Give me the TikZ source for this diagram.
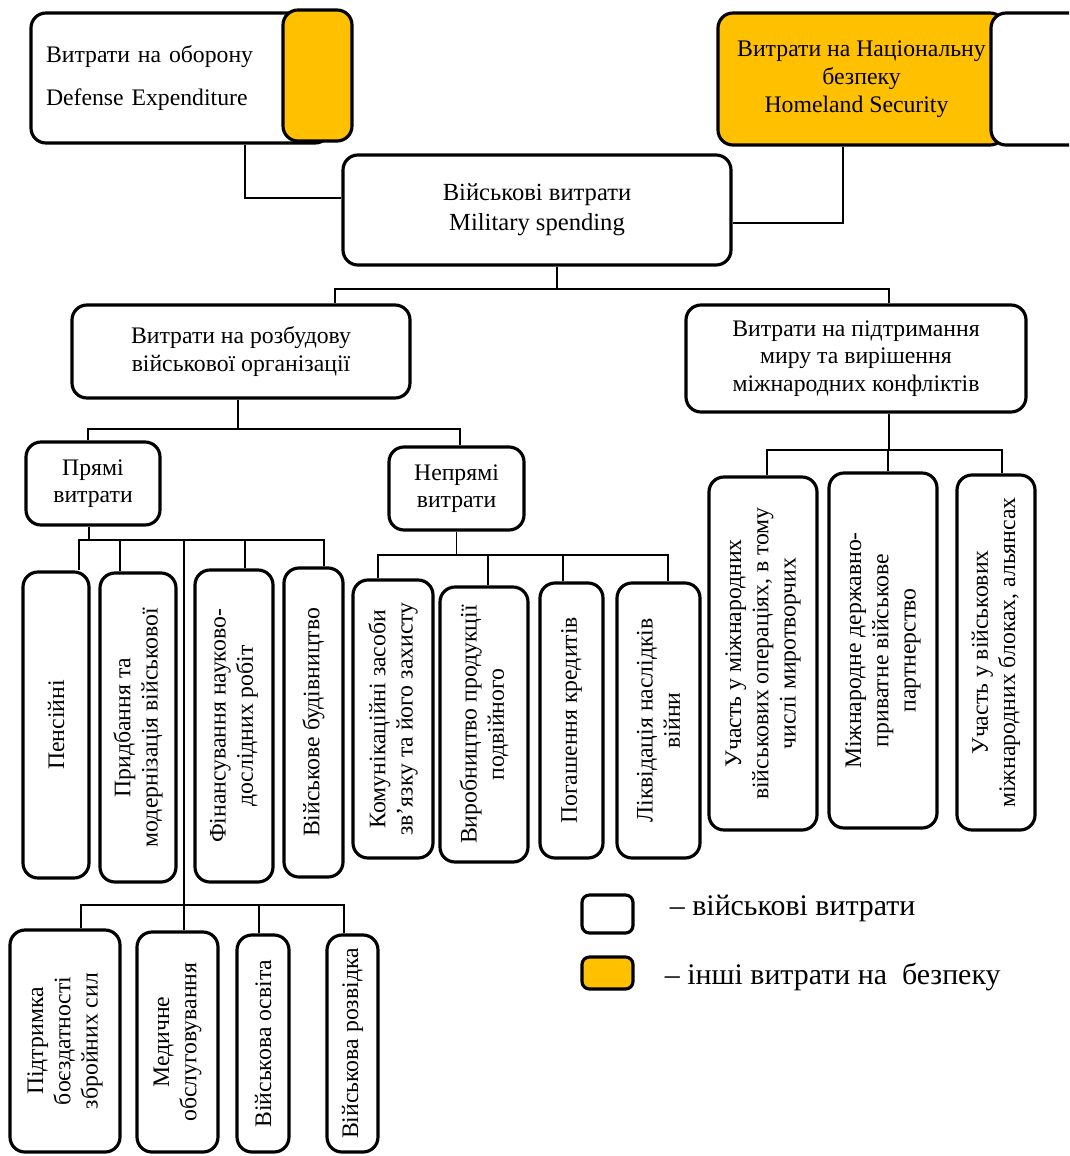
\documentclass[tikz,border=0pt]{standalone}
\usepackage{fontspec}
\setmainfont{Liberation Serif}
\usepackage{tikz}
\usetikzlibrary{positioning}

\definecolor{gold}{HTML}{FFC000}
\newcommand{\bxfont}{\fontsize{13.5}{15.5}\selectfont}

\begin{document}
\begin{tikzpicture}[
    box/.style={rectangle, rounded corners=0.3cm, draw=black, line width=1.8pt,
                fill=white, align=center, inner sep=2pt, font=\bxfont},
    vbox/.style={box, rotate=90},
    goldbox/.style={box, fill=gold},
    conn/.style={line width=1.1pt},
    thinconn/.style={line width=0.6pt},
    legtext/.style={font=\fontsize{17}{20}\selectfont, inner sep=0pt}
]

    \clip (0,0) rectangle (21.38,-23.12);

    % Defense expenditure (top left)
    \node[box, minimum width=5.98cm, minimum height=2.6cm, text width=5.38cm,
          align=left, inner xsep=0.3cm] (defense) at (3.61,-1.56)
          {Витрати на оборону\\[9pt]Defense Expenditure};
    \node[goldbox, minimum width=1.38cm, minimum height=2.62cm] (defside) at (6.35,-1.51) {};

    % Homeland security (top right)
    \node[goldbox, minimum width=5.74cm, minimum height=2.64cm,
          font=\fontsize{13.5}{16}\selectfont] (homeland) at (17.23,-1.58)
          {Витрати на Національну\\безпеку\\Homeland Security\hspace*{0.2cm}};
    \node[box, minimum width=1.98cm, minimum height=2.64cm] (homeside) at (20.81,-1.58) {};

    % Military spending
    \node[box, minimum width=7.76cm, minimum height=2.2cm,
          font=\fontsize{14}{17}\selectfont] (mil) at (10.74,-4.2)
          {Військові витрати\\Military spending};

    % Second level
    \node[box, minimum width=6.76cm, minimum height=1.86cm] (build) at (4.82,-7.03)
          {Витрати на розбудову\\військової організації};
    \node[box, minimum width=6.8cm, minimum height=2.14cm] (peace) at (17.12,-7.17)
          {Витрати на підтримання\\миру та вирішення\\міжнародних конфліктів};

    % Direct / indirect
    \node[box, minimum width=2.68cm, minimum height=1.66cm] (direct) at (1.86,-9.67) {Прямі\\витрати};
    \node[box, minimum width=2.7cm, minimum height=1.66cm] (indirect) at (9.13,-9.77) {Непрямі\\витрати};

    % Direct expenditure items
    \node[vbox, minimum width=6.12cm, minimum height=1.32cm] (pens) at (1.12,-14.5) {Пенсійні};
    \node[vbox, minimum width=6.18cm, minimum height=1.52cm] (purch) at (2.76,-14.55)
          {Придбання та\\модернізація військової};
    \node[vbox, minimum width=6.24cm, minimum height=1.56cm] (rnd) at (4.68,-14.52)
          {Фінансування науково-\\дослідних робіт};
    \node[vbox, minimum width=6.18cm, minimum height=1.18cm] (constr) at (6.27,-14.45) {Військове будівництво};

    % Indirect expenditure items
    \node[vbox, minimum width=5.56cm, minimum height=1.6cm] (comm) at (7.86,-14.38)
          {Комунікаційні засоби\\зв’язку та його захисту};
    \node[vbox, minimum width=5.5cm, minimum height=1.76cm] (dual) at (9.68,-14.49)
          {Виробництво продукції\\подвійного};
    \node[vbox, minimum width=5.5cm, minimum height=1.26cm] (loans) at (11.43,-14.41) {Погашення кредитів};
    \node[vbox, minimum width=5.5cm, minimum height=1.66cm] (postwar) at (13.17,-14.41)
          {Ліквідація наслідків\\війни};

    % Peace items
    \node[vbox, minimum width=7.06cm, minimum height=2.16cm] (peaceops) at (15.26,-13.07)
          {Участь у міжнародних\\військових операціях, в тому\\числі миротворчих};
    \node[vbox, minimum width=7.1cm, minimum height=2.16cm] (partner) at (17.66,-13.01)
          {Міжнародне державно-\\приватне військове\\партнерство};
    \node[vbox, minimum width=7.1cm, minimum height=1.56cm] (blocs) at (19.92,-13.05)
          {Участь у військових\\міжнародних блоках, альянсах};

    % Lower row
    \node[vbox, minimum width=4.44cm, minimum height=2.2cm] (combat) at (1.3,-20.82)
          {Підтримка\\боєздатності\\збройних сил};
    \node[vbox, minimum width=4.4cm, minimum height=1.62cm] (medic) at (3.55,-20.84)
          {Медичне\\обслуговування};
    \node[vbox, minimum width=4.34cm, minimum height=1.04cm] (edu) at (5.26,-20.87) {Військова освіта};
    \node[vbox, minimum width=4.34cm, minimum height=1.02cm] (intel) at (7.05,-20.87) {Військова розвідка};

    % Links to military spending
    \draw[conn] ([xshift=1.29cm]defense.south) |- ([yshift=0.24cm]mil.west);
    \draw[conn] ([xshift=-0.37cm]homeland.south) |- ([yshift=-0.26cm]mil.east);

    % Military spending tree
    \coordinate (milbus) at ([xshift=0.4cm, yshift=-0.44cm]mil.south);
    \draw[conn] ([xshift=0.4cm]mil.south) -- (milbus);
    \draw[conn] ([xshift=1.88cm]build.north) |- (milbus);
    \draw[conn] ([xshift=0.66cm]peace.north) |- (milbus);

    \coordinate (buildbus) at ([xshift=-0.06cm, yshift=-0.58cm]build.south);
    \draw[conn] ([xshift=-0.06cm]build.south) -- (buildbus);
    \draw[conn] ([xshift=-0.1cm]direct.north) |- (buildbus);
    \draw[conn] ([xshift=0.07cm]indirect.north) |- (buildbus);

    \coordinate (dirbus) at ([xshift=-0.08cm, yshift=-0.26cm]direct.south);
    \draw[conn] ([xshift=-0.08cm]direct.south) -- (dirbus);
    \foreach \n/\dx in {pens/0.46, purch/-0.36, rnd/0.22, constr/0.21}
        \draw[conn] ([xshift=\dx cm]\n.east) |- (dirbus);

    \coordinate (indbus) at ([yshift=-0.46cm]indirect.south);
    \draw[conn] (indirect.south) -- (indbus);
    \foreach \n/\dx in {comm/-0.3, dual/0.08, loans/-0.17, postwar/0.19}
        \draw[conn] ([xshift=\dx cm]\n.east) |- (indbus);

    \coordinate (peacebus) at ([xshift=0.66cm, yshift=-0.72cm]peace.south);
    \draw[conn] ([xshift=0.66cm]peace.south) -- (peacebus);
    \foreach \n/\dx in {peaceops/0.08, partner/0.1, blocs/0.12}
        \draw[conn] ([xshift=\dx cm]\n.east) |- (peacebus);

    % Lower row hangs from direct expenditure
    \coordinate (lowbus) at (3.68,-18.1);
    \draw[thinconn] (lowbus) -- (lowbus |- dirbus);
    \foreach \n/\dx in {combat/0.32, medic/0.13, edu/-0.08, intel/-0.17}
        \draw[thinconn] ([xshift=\dx cm]\n.east) |- (lowbus);

    % Legend
    \node[box, minimum width=1.02cm, minimum height=0.76cm, rounded corners=0.15cm] (legmil) at (12.15,-18.28) {};
    \node[legtext, right=0.7cm of legmil, yshift=0.12cm] (legmiltext) {– військові витрати};
    \node[goldbox, minimum width=1.02cm, minimum height=0.64cm, rounded corners=0.15cm] (legsec) at (12.15,-19.46) {};
    \node[legtext, right=0.6cm of legsec, yshift=-0.08cm] (legsectext) {– інші витрати на~ безпеку};

\end{tikzpicture}
\end{document}
